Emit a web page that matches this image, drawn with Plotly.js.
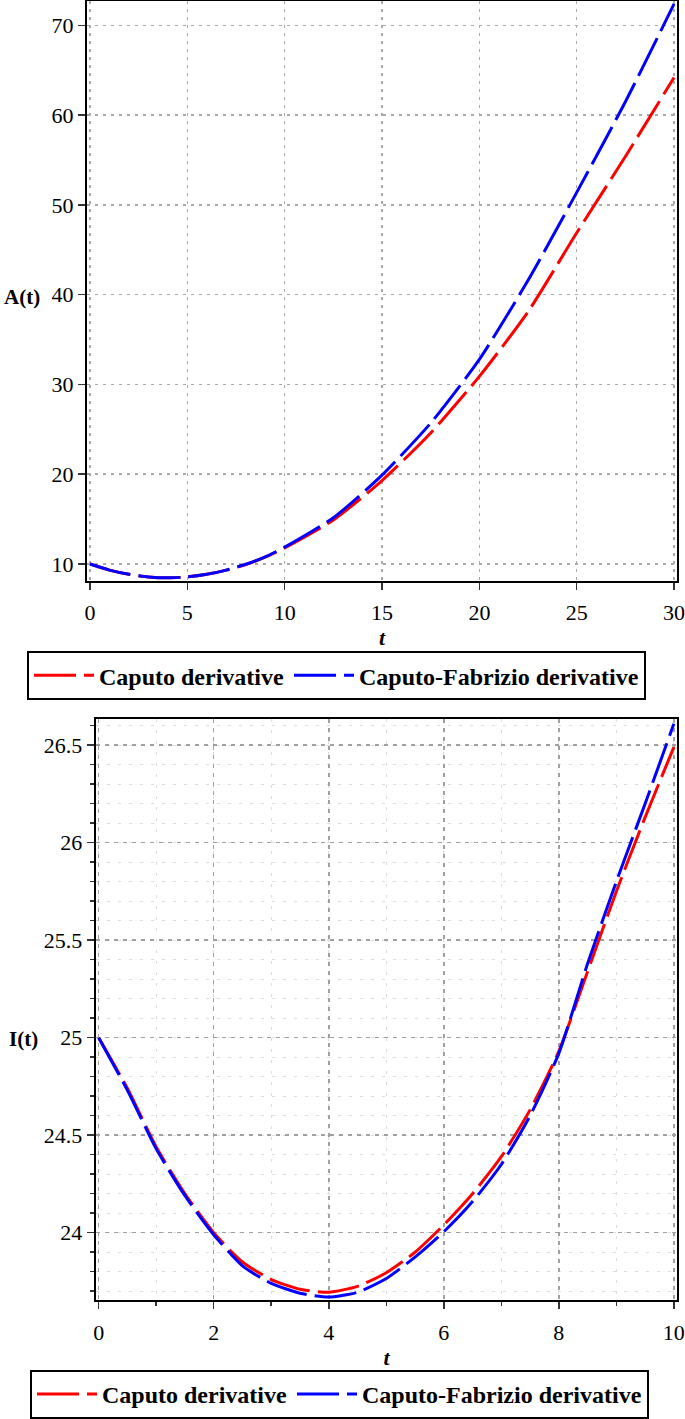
<!DOCTYPE html>
<html>
<head>
<meta charset="utf-8">
<script src="https://cdn.plot.ly/plotly-3.0.1.min.js"></script>
<style>html,body{margin:0;padding:0;background:#fff;}#chart{width:685px;height:1419px;}</style>
</head>
<body>
<div id="chart"></div>
<script>
// Top panel: A(t)
const tA = [0,1,2,3,4,5,6,7,8,9,10,12.5,15,17.5,20,22.5,25,27.5,30];
const A_caputo = [10.0,9.32,8.85,8.56,8.46,8.56,8.85,9.32,9.95,10.76,11.8,14.9,19.3,24.6,30.9,38.1,46.9,55.4,64.2];
const A_cf     = [10.0,9.32,8.85,8.56,8.46,8.56,8.85,9.32,9.97,10.8,11.88,15.15,19.9,25.7,32.8,41.6,51.4,61.5,72.4];
// Bottom panel: I(t)
const tI = [0,0.5,1,1.5,2,2.5,3,3.5,4,4.5,5,5.5,6,6.5,7,7.5,8,8.5,9,9.5,10];
const I_caputo = [25.0,24.74,24.44,24.2,24.0,23.85,23.76,23.71,23.695,23.725,23.795,23.9,24.04,24.2,24.39,24.63,24.93,25.34,25.75,26.13,26.49];
const I_cf     = [25.0,24.73,24.43,24.19,23.99,23.83,23.74,23.69,23.67,23.695,23.765,23.875,24.005,24.16,24.35,24.6,24.92,25.38,25.8,26.2,26.61];
const names = ["Caputo derivative","Caputo-Fabrizio derivative"];
const xTicksA = [0,5,10,15,20,25,30];
const yTicksA = [10,20,30,40,50,60,70];
const xTicksI = [0,2,4,6,8,10];
const yTicksI = [24,24.5,25,25.5,26,26.5];

const serif = "Liberation Serif";
const dashPat = "42px,8px";
const W = 685, H = 1419;
function px2x(p){return p/W;}
function px2y(p){return 1-p/H;}

function line(color){return {color:color,width:3,dash:dashPat,shape:'spline',smoothing:0.6};}

const traces = [
  {x:tA,y:A_caputo,name:names[0],mode:'lines',line:line('#ff0000'),xaxis:'x',yaxis:'y',legend:'legend'},
  {x:tA,y:A_cf,name:names[1],mode:'lines',line:line('#0000ff'),xaxis:'x',yaxis:'y',legend:'legend'},
  {x:tI,y:I_caputo,name:names[0],mode:'lines',line:line('#ff0000'),xaxis:'x2',yaxis:'y2',legend:'legend2'},
  {x:tI,y:I_cf,name:names[1],mode:'lines',line:line('#0000ff'),xaxis:'x2',yaxis:'y2',legend:'legend2'}
];

const tickFont = {family:serif,size:22,color:'#000'};
const titleFont = {family:serif,size:22,color:'#000',weight:'bold',style:'italic'};
const common = {
  showline:true,linecolor:'#000',linewidth:2,mirror:true,
  ticks:'outside',ticklen:7,tickwidth:1.5,tickcolor:'#333',
  tickfont:tickFont,zeroline:false,automargin:false,
  showgrid:true,gridwidth:1.5,ticklabeloverflow:'allow'
};

const layout = {
  width:W,height:H,
  margin:{l:0,r:0,t:0,b:0},
  paper_bgcolor:'#fff',plot_bgcolor:'#fff',
  showlegend:true,
  font:{family:serif,color:'#000'},
  xaxis:Object.assign({},common,{
    domain:[px2x(87),px2x(677)],range:[-0.154,30.15],tickvals:xTicksA,
    gridcolor:'#aaaaaa',griddash:'3px,5px',anchor:'y',ticklabelstandoff:4,
    title:{text:'t',font:titleFont,standoff:4}
  }),
  yaxis:Object.assign({},common,{
    domain:[px2y(587),px2y(1)],range:[8.13,72.72],tickvals:yTicksA,
    gridcolor:'#aaaaaa',griddash:'3px,5px',anchor:'x'
  }),
  xaxis2:Object.assign({},common,{
    domain:[px2x(95.7),px2x(677.3)],range:[-0.052,10.06],tickvals:xTicksI,
    gridcolor:'#a0a0a0',griddash:'4px,5px',anchor:'y2',ticklabelstandoff:4,
    minor:{dtick:1,tick0:0,ticks:'outside',ticklen:4,tickcolor:'#333',showgrid:true,gridcolor:'#dddddd',griddash:'3px,8px',gridwidth:1.2},
    title:{text:'t',font:titleFont,standoff:6}
  }),
  yaxis2:Object.assign({},common,{
    domain:[px2y(1314.3),px2y(727)],range:[23.653,26.633],tickvals:yTicksI,
    gridcolor:'#a0a0a0',griddash:'4px,5px',anchor:'x2',
    minor:{dtick:0.1,tick0:0,ticks:'outside',ticklen:4,tickcolor:'#333',showgrid:true,gridcolor:'#dddddd',griddash:'3px,8px',gridwidth:1.2}
  }),
  legend:{
    x:px2x(27),y:px2y(658),xanchor:'left',yanchor:'top',orientation:'h',
    bgcolor:'#fff',bordercolor:'#000',borderwidth:2,itemwidth:60,
    font:{family:serif,size:24,color:'#000',weight:'bold'}
  },
  legend2:{
    x:px2x(30),y:px2y(1385),xanchor:'left',yanchor:'top',orientation:'h',
    bgcolor:'#fff',bordercolor:'#000',borderwidth:2,itemwidth:60,
    font:{family:serif,size:24,color:'#000',weight:'bold'}
  },
  annotations:[
    {text:'A(t)',xref:'paper',yref:'paper',x:px2x(22),y:px2y(300),xanchor:'center',yanchor:'middle',showarrow:false,
     font:{family:serif,size:21,color:'#000',weight:'bold'}},
    {text:'I(t)',xref:'paper',yref:'paper',x:px2x(23),y:px2y(1050),xanchor:'center',yanchor:'middle',showarrow:false,
     font:{family:serif,size:21,color:'#000',weight:'bold'}}
  ]
};

Plotly.newPlot('chart',traces,layout,{displayModeBar:false,staticPlot:true});
</script>
</body>
</html>
